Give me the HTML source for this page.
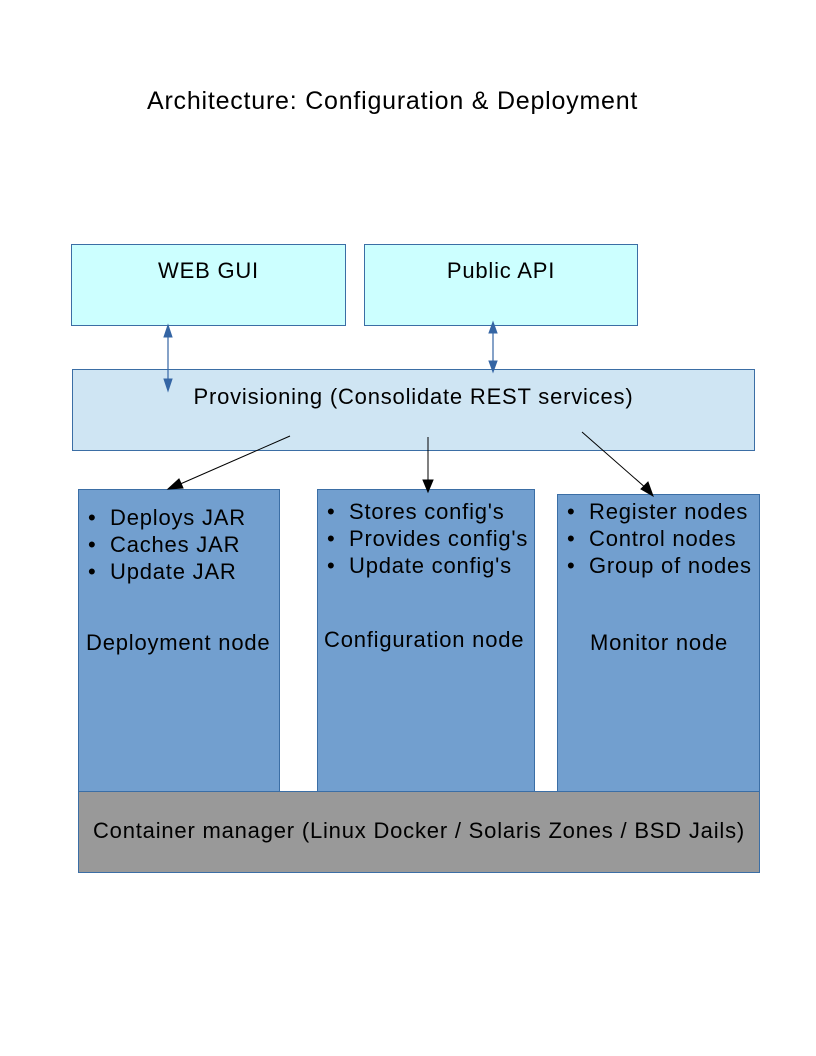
<!DOCTYPE html>
<html><head><style>
body{margin:0;width:816px;height:1056px;background:#fff;position:relative;font-family:"Liberation Sans",sans-serif;overflow:hidden}
.b{position:absolute;box-sizing:border-box;border:1px solid #3b6ea5}
.t{position:absolute;font-size:22px;line-height:24px;letter-spacing:0.8px;color:#000;white-space:nowrap}
ul{margin:0;padding:0;list-style:none}
li{position:relative;padding-left:26px;line-height:27px}
li:before{content:"•";position:absolute;left:4px}
</style></head><body>
<div class="t" style="left:147px;top:88px;font-size:25px;line-height:26px;letter-spacing:0.78px">Architecture: Configuration &amp; Deployment</div>
<div class="b" style="left:71px;top:244px;width:275px;height:82px;background:#ccffff"></div>
<div class="t" style="left:71px;width:275px;text-align:center;top:259px">WEB GUI</div>
<div class="b" style="left:364px;top:244px;width:274px;height:82px;background:#ccffff"></div>
<div class="t" style="left:364px;width:274px;text-align:center;top:259px">Public API</div>
<div class="b" style="left:72px;top:369px;width:683px;height:82px;background:#cfe5f3"></div>
<div class="t" style="left:72px;width:683px;text-align:center;top:385px">Provisioning (Consolidate REST services)</div>
<div class="b" style="left:78px;top:489px;width:202px;height:303px;background:#729fcf"></div>
<div class="b" style="left:317px;top:489px;width:218px;height:303px;background:#729fcf"></div>
<div class="b" style="left:557px;top:494px;width:203px;height:298px;background:#729fcf"></div>
<div class="b" style="left:78px;top:791px;width:682px;height:82px;background:#999999"></div>
<ul class="t" style="left:84px;top:504px"><li>Deploys JAR</li><li>Caches JAR</li><li>Update JAR</li></ul>
<ul class="t" style="left:323px;top:498px"><li>Stores config's</li><li>Provides config's</li><li>Update config's</li></ul>
<ul class="t" style="left:563px;top:498px"><li>Register nodes</li><li>Control nodes</li><li>Group of nodes</li></ul>
<div class="t" style="left:86px;top:631px">Deployment node</div>
<div class="t" style="left:324px;top:628px">Configuration node</div>
<div class="t" style="left:590px;top:631px">Monitor node</div>
<div class="t" style="left:78px;width:682px;text-align:center;top:819px">Container manager (Linux Docker / Solaris Zones / BSD Jails)</div>
<svg width="816" height="1056" style="position:absolute;left:0;top:0">
<g stroke="#3465a4" fill="#3465a4">
<line x1="168" y1="334" x2="168" y2="382" stroke-width="1.2"/>
<polygon points="168,325 164,337 172,337"/><polygon points="168,391 164,379 172,379"/>
<line x1="493" y1="330" x2="493" y2="364" stroke-width="1.2"/>
<polygon points="493,322 489,333 497,333"/><polygon points="493,372 489,361 497,361"/>
</g>
<g stroke="#000" fill="#000">
<line x1="290" y1="436" x2="178" y2="485" stroke-width="1"/>
<polygon points="168,489 179,479 183,488"/>
<line x1="428" y1="437" x2="428" y2="482" stroke-width="1"/>
<polygon points="428,492 423,480 433,480"/>
<line x1="582" y1="432" x2="647" y2="489" stroke-width="1"/>
<polygon points="653,496 641,489 648,482"/>
</g>
</svg>
</body></html>
